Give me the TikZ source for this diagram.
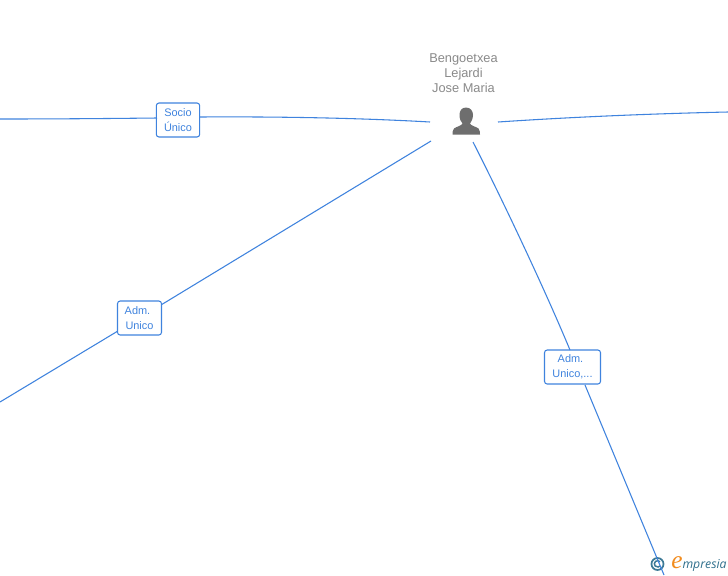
\documentclass[tikz,border=0pt]{standalone}
\usepackage{fontspec}
\setmainfont{Liberation Sans}
\newfontfamily\logofont{Open Sans}
\newfontfamily\logoe{Liberation Serif}
\definecolor{linkblue}{HTML}{3F83DE}
\definecolor{namegray}{HTML}{8A8A8A}
\definecolor{icongray}{HTML}{6E6E6E}
\definecolor{logoteal}{HTML}{2F6F8C}
\definecolor{logoring}{HTML}{3D7A96}
\definecolor{logoorange}{HTML}{F28C1E}
\newcommand{\lowr}[1]{\raisebox{-0.7pt}{#1}}
\tikzset{
  conn/.style={draw=linkblue,line width=0.8pt},
  rolebox/.style={draw=linkblue,fill=white,rounded corners=2pt,line width=0.8pt,inner sep=0pt,
    align=center,text=linkblue,font=\fontsize{8.2pt}{11pt}\selectfont},
  namelabel/.style={align=center,text=namegray,font=\fontsize{9.6pt}{11pt}\selectfont,inner sep=0pt}
}
\begin{document}
\begin{tikzpicture}[x=0.75pt,y=-0.75pt]
\useasboundingbox (0,0) rectangle (728,575);
\fill[white] (0,0) rectangle (728,575);
\coordinate (leftA) at (0,119);
\coordinate (leftB) at (0,402);
\coordinate (rightA) at (728,112);
\coordinate (bottomA) at (664,575);
\coordinate (pW) at (430,122);
\coordinate (pE) at (498,122);
\coordinate (pSW) at (431,141);
\coordinate (pS) at (473,142);
\coordinate (admbIn) at (570,350);
\coordinate (admbOut) at (585,385);
\coordinate (socioIn) at (157,118);
\coordinate (socioOut) at (200,117);
\node[rolebox,minimum width=32.5pt,minimum height=25.5pt] (socio) at (178,120) {\lowr{Socio}\\\lowr{Único}};
\node[rolebox,minimum width=33pt,minimum height=25.5pt] (adm) at (139.5,318) {\hspace*{-3pt}\lowr{Adm.}\\\lowr{Unico}};
\node[rolebox,minimum width=42pt,minimum height=25.5pt] (admb) at (572.5,367) {\hspace*{-3pt}\lowr{Adm.}\\\lowr{Unico,...}};
\node[namelabel] (name) at (463.5,73) {Bengoetxea\\Lejardi\\Jose Maria};
\draw[conn] (leftA) .. controls (60,119) and (110,118.5) .. (socioIn);
\draw[conn] (socioOut) .. controls (280,116.5) and (360,118) .. (pW);
\draw[conn] (pE) .. controls (580,116.5) and (660,113.5) .. (rightA);
\draw[conn] (pSW) -- (adm);
\draw[conn] (adm) -- (leftB);
\draw[conn] (pS) .. controls (505,205) and (545,290) .. (admbIn);
% logo ring
\draw[logoring,line width=1.3pt] (657.5,564) circle[radius=6];
\draw[logoring,line width=1.1pt] (660,561.8) arc[start angle=-40,end angle=-320,radius=3.2];
\draw[conn] (admbOut) -- (bottomA);
% person icon
\fill[icongray] (466,107.5) .. controls (470.5,107.5) and (473,111) .. (473,115)
  .. controls (473,119) and (471,122) .. (470,123.5)
  .. controls (471,126) and (476,126.5) .. (478.5,128.5)
  .. controls (480,130) and (480,133) .. (480,134.5) -- (452.5,134.5)
  .. controls (452.5,133) and (452.5,130) .. (454,128.5)
  .. controls (456.5,126.5) and (461.5,126) .. (462.5,123.5)
  .. controls (461,122) and (459.5,119) .. (459.5,115)
  .. controls (459.5,111) and (461.5,107.5) .. (466,107.5) -- cycle;
% logo text
\node[inner sep=0pt,anchor=base west,font=\logofont\itshape\fontsize{9.2pt}{12pt}\selectfont,text=logoteal] (logoText) at (671,568)
  {\textcolor{logoorange}{\logoe\fontsize{19pt}{15pt}\selectfont e}mpresia};
\end{tikzpicture}
\end{document}
